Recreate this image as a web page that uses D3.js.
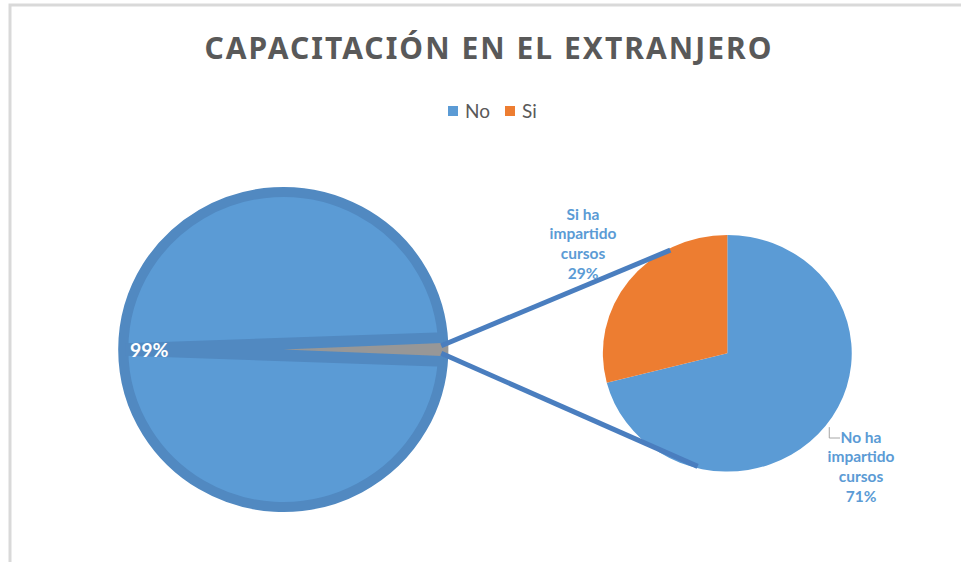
<!DOCTYPE html>
<html>
<head>
<meta charset="utf-8">
<script src="https://cdn.jsdelivr.net/npm/d3@7/dist/d3.min.js"></script>
<style>
  body { margin: 0; background: #fff; }
  svg { display: block; font-family: Lato, "Open Sans", sans-serif; }
</style>
</head>
<body>
<div id="chart"></div>
<script>
// primary pie: "No" and the small slice that is split out into the second pie
var mainCategories = ["No", "Otro"];
var mainValues = [98.7, 1.3];

// secondary pie
var subCategories = ["No ha impartido cursos", "Si ha impartido cursos"];
var subValues = [71, 29];

// legend
var legendLabels = ["No", "Si"];

var mainColors = ["#5b9bd5", "#979797"];
var subColors = ["#5b9bd5", "#ed7d31"];
var legendColors = ["#5b9bd5", "#ed7d31"];

var width = 961, height = 562;

var svg = d3.select("#chart")
  .append("svg")
    .attr("width", width)
    .attr("height", height);

// chart frame, only the top and left edges are in the picture
svg.append("path")
  .attr("d", "M10," + height + "V5H" + width)
  .attr("fill", "none")
  .attr("stroke", "#d9d9d9")
  .attr("stroke-width", 3);

// title
var title = svg.append("text")
  .attr("x", 489)
  .attr("y", 59)
  .attr("text-anchor", "middle")
  .attr("fill", "#595959")
  .style("font-family", "'Noto Sans', sans-serif")
  .style("font-size", "30px")
  .style("font-weight", "bold")
  .text("CAPACITACIÓN EN EL EXTRANJERO");
var titleLen = title.node().getComputedTextLength();
var titleChars = title.text().length;
title.style("letter-spacing", ((567 - titleLen) / (titleChars - 1)) + "px");

// legend
var legend = svg.append("g");
var lx = 448;
legendLabels.forEach(function(name, i) {
  legend.append("rect")
    .attr("x", lx)
    .attr("y", 106)
    .attr("width", 10)
    .attr("height", 10)
    .attr("fill", legendColors[i]);
  var t = legend.append("text")
    .attr("x", lx + 17)
    .attr("y", 117.5)
    .attr("fill", "#595959")
    .style("font-size", "19px")
    .text(name);
  lx += 17 + t.node().getComputedTextLength() + 15;
});

// ---- primary pie
var bigCx = 283.3, bigCy = 349.5, bigR = 157.5, bigSx = 1.016;
var total = d3.sum(mainValues);
var grayAngle = 2 * Math.PI * mainValues[1] / total;

var pieMain = d3.pie()
  .sort(null)
  .value(function(d) { return d; })
  .startAngle(Math.PI / 2 + grayAngle / 2)
  .endAngle(Math.PI / 2 + grayAngle / 2 + 2 * Math.PI);
var mainArcs = pieMain(mainValues);

var gBig = svg.append("g")
  .attr("transform", "translate(" + bigCx + "," + bigCy + ") scale(" + bigSx + ",1)");

var arcBig = d3.arc().innerRadius(0).outerRadius(bigR);
var arcBigOuter = d3.arc().innerRadius(0).outerRadius(bigR + 5);

// big slice with a thick darker rim
gBig.append("path")
  .attr("d", arcBig(mainArcs[0]))
  .attr("fill", mainColors[0])
  .attr("stroke", "#5189c1")
  .attr("stroke-width", 10)
  .attr("stroke-linejoin", "round");

// darker streak across the pie, widening towards the small slice
var streak = [
  [-(bigR - 2), -0.04 * bigR], [bigR, -0.11 * bigR],
  [bigR, 0.11 * bigR], [-(bigR - 2), 0.04 * bigR]
];
gBig.append("path")
  .attr("d", d3.line()(streak) + "Z")
  .attr("fill", "#5189c1");

gBig.append("path")
  .attr("d", arcBigOuter(mainArcs[1]))
  .attr("fill", mainColors[1]);

// 99% label, inside end of the big slice
var bigMid = (mainArcs[0].startAngle + mainArcs[0].endAngle) / 2;
svg.append("text")
  .attr("x", bigCx + bigSx * 132 * Math.sin(bigMid))
  .attr("y", bigCy - 132 * Math.cos(bigMid))
  .attr("dy", "0.36em")
  .attr("text-anchor", "middle")
  .attr("fill", "#ffffff")
  .style("font-size", "19.5px")
  .style("font-weight", "bold")
  .text(Math.round(mainValues[0] / total * 100) + "%");

// ---- secondary pie
var subCx = 727.3, subCy = 353.3, subR = 118.3, subSx = 1.052;
var subTotal = d3.sum(subValues);
var pieSub = d3.pie().sort(null).value(function(d) { return d; });
var subArcs = pieSub(subValues);
var arcSub = d3.arc().innerRadius(0).outerRadius(subR);

var gSub = svg.append("g")
  .attr("transform", "translate(" + subCx + "," + subCy + ") scale(" + subSx + ",1)");
gSub.selectAll("path")
  .data(subArcs)
  .enter()
  .append("path")
    .attr("d", arcSub)
    .attr("fill", function(d, i) { return subColors[i]; });

// ---- connector lines
function bigPoint(a, r) {
  return [bigCx + bigSx * r * Math.sin(a), bigCy - r * Math.cos(a)];
}
function subPoint(a, r) {
  return [subCx + subSx * r * Math.sin(a), subCy - r * Math.cos(a)];
}
var deg = Math.PI / 180;
var connectors = [
  [bigPoint(Math.PI / 2 - grayAngle * 0.3, bigR - 2), subPoint(-27.7 * deg, subR * 0.985)],
  [bigPoint(Math.PI / 2 + grayAngle * 0.3, bigR - 2), subPoint(194 * deg, subR * 0.985)]
];
svg.selectAll(".connector")
  .data(connectors)
  .enter()
  .append("path")
    .attr("class", "connector")
    .attr("d", d3.line())
    .attr("fill", "none")
    .attr("stroke", "#4a7ebf")
    .attr("stroke-width", 5);

// ---- data labels of the secondary pie
var labelPos = [[861, 437], [583, 214]];
subArcs.forEach(function(d, i) {
  var words = subCategories[i].split(" ");
  var lines = [words[0] + " " + words[1], words[2], words[3],
               Math.round(d.value / subTotal * 100) + "%"];
  var t = svg.append("text")
    .attr("text-anchor", "middle")
    .attr("fill", "#5b9bd5")
    .style("font-size", "15.5px")
    .style("font-weight", "bold");
  lines.forEach(function(line, j) {
    t.append("tspan")
      .attr("x", labelPos[i][0])
      .attr("y", labelPos[i][1] + j * 19.7)
      .attr("dy", "0.36em")
      .text(line);
  });
});

// leader line for the first label
var lead = subPoint(127.3 * deg, subR * 1.03);
svg.append("path")
  .attr("d", d3.line()([lead, [lead[0], 438], [840, 438]]))
  .attr("fill", "none")
  .attr("stroke", "#a6a6a6")
  .attr("stroke-width", 1);
</script>
</body>
</html>
